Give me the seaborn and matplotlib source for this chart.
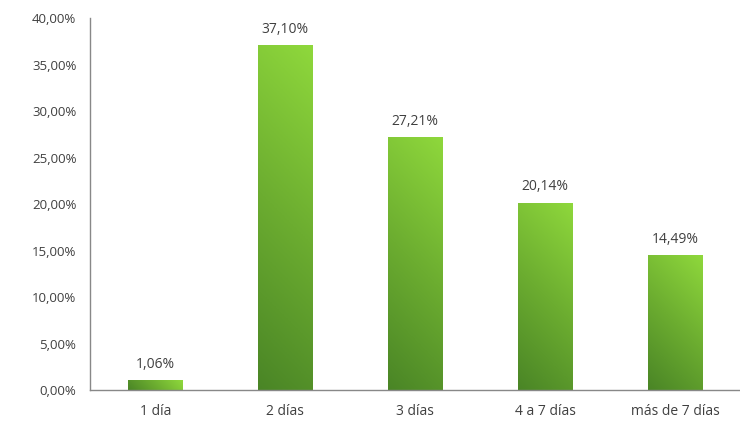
import matplotlib
matplotlib.use("Agg")
import matplotlib.pyplot as plt
import seaborn as sns
import numpy as np
import pandas as pd
from matplotlib.colors import LinearSegmentedColormap

categories = ["1 día", "2 días", "3 días", "4 a 7 días", "más de 7 días"]
values = [1.06, 37.10, 27.21, 20.14, 14.49]
y_ticks = [0, 5, 10, 15, 20, 25, 30, 35, 40]

sns.set_theme(style="white")
plt.rcParams['font.family'] = ['Open Sans', 'DejaVu Sans']

df = pd.DataFrame({"cat": categories, "val": values})

fig = plt.figure(figsize=(7.4, 4.3), dpi=100)
ax = fig.add_axes([0.122, 0.093, 0.878, 0.865])

sns.barplot(data=df, x="cat", y="val", color="#6fb232", width=0.42, ax=ax, saturation=1)
ax.set_xlim(-0.5, 4.5)
ax.set_ylim(0, 40)
fig.canvas.draw()

# diagonal (45 degrees in pixel space) gradient: dark bottom-left, light top-right
cmap = LinearSegmentedColormap.from_list("g", ["#4a8526", "#6cad30", "#8fd83c"])
u = np.linspace(0, 1, 64)
vv = np.linspace(0, 1, 256)
U, V = np.meshgrid(u, vv)
bars = list(ax.patches)
extents = [p.get_window_extent() for p in bars]
for p, bb in zip(bars, extents):
    x0, y0 = p.get_x(), p.get_y()
    w, h = p.get_width(), p.get_height()
    wp, hp = bb.width, bb.height
    g = (U * wp + V * hp) / (wp + hp)
    im = ax.imshow(g, cmap=cmap, aspect="auto", origin="lower", vmin=0, vmax=1,
                   extent=[x0, x0 + w, y0, y0 + h], zorder=p.get_zorder() + 0.1)
    im.set_clip_path(p)

for i, v_ in enumerate(values):
    ax.text(i, v_ + 0.9, f"{v_:.2f}".replace(".", ",") + "%", ha="center", va="bottom",
            fontsize=10, color="#404040")

ax.set_xlim(-0.5, 4.5)
ax.set_ylim(0, 40)
ax.set_yticks(y_ticks)
ax.set_yticklabels([f"{t:.2f}".replace(".", ",") + "%" for t in y_ticks], fontsize=9.5, color="#404040")
ax.set_xticks(range(len(categories)))
ax.set_xticklabels(categories, fontsize=10, color="#404040")
ax.set_xlabel("")
ax.set_ylabel("")
ax.tick_params(axis="both", length=0, pad=10)
for s in ["top", "right"]:
    ax.spines[s].set_visible(False)
for s in ["left", "bottom"]:
    ax.spines[s].set_color("#888888")
    ax.spines[s].set_linewidth(1)

fig.savefig("out.png", dpi=100)
